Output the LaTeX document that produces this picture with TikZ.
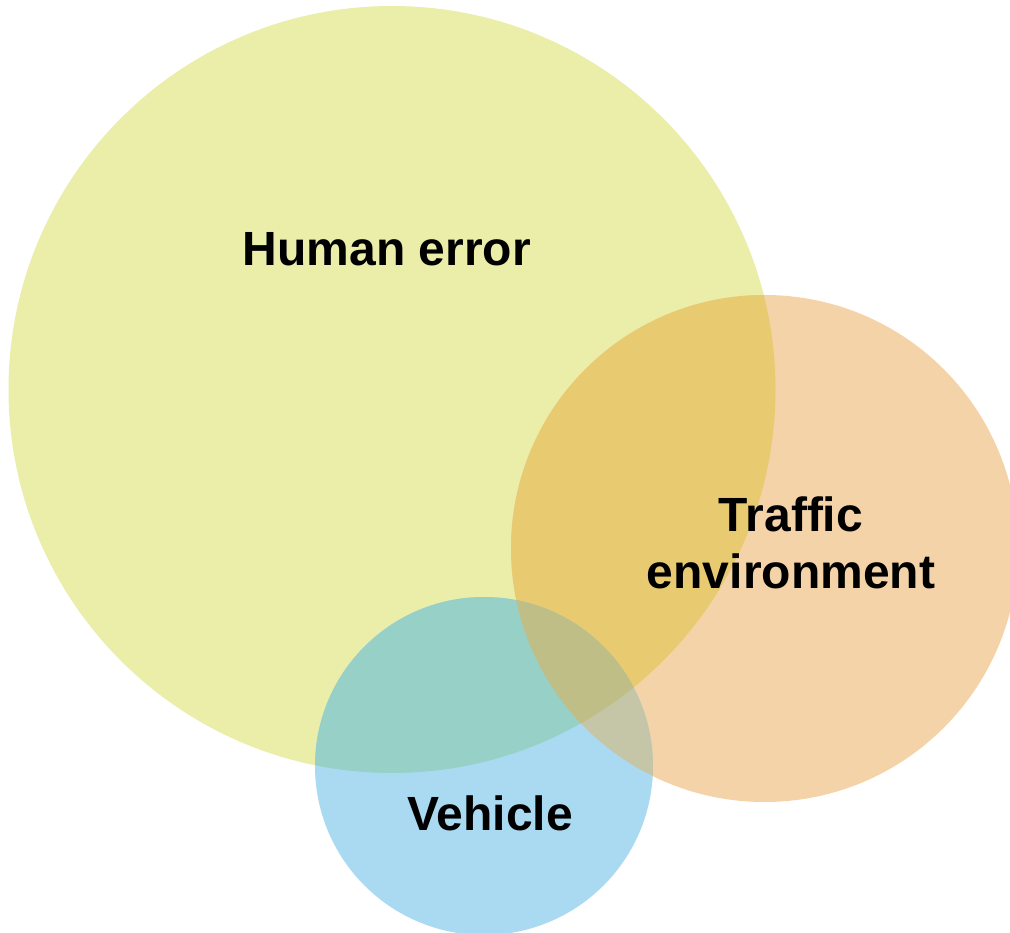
\documentclass[tikz,border=0pt]{standalone}
\usepackage{fontspec}
\setmainfont{Liberation Sans}
\begin{document}
\begin{tikzpicture}[x=1pt,y=-1pt,
  label/.style={font=\fontsize{48}{57}\selectfont\bfseries, text=black, inner sep=0pt, align=center}]
  \definecolor{cHuman}{RGB}{235,238,169}
  \definecolor{cTraffic}{RGB}{245,211,168}
  \definecolor{cVehicle}{RGB}{170,218,241}
  \definecolor{cHT}{RGB}{232,202,112}
  \definecolor{cHV}{RGB}{151,208,199}
  \definecolor{cTV}{RGB}{197,197,168}
  \definecolor{cHTV}{RGB}{190,190,134}
  \useasboundingbox (0,0) rectangle (1010,933);
  \fill[white] (0,0) rectangle (1010,933);
  \clip (0,0) rectangle (1010,933);

  % circle centres
  \coordinate (human) at (392,389.5);
  \coordinate (traffic) at (764.5,548.5);
  \coordinate (vehicle) at (484,766);
  \def\rHuman{383.5}
  \def\rTraffic{253.5}
  \def\rVehicle{169}

  % single sets
  \fill[cHuman] (human) circle[radius=\rHuman];
  \fill[cTraffic] (traffic) circle[radius=\rTraffic];
  \fill[cVehicle] (vehicle) circle[radius=\rVehicle];

  % pairwise overlaps
  \begin{scope}
    \clip (human) circle[radius=\rHuman];
    \fill[cHT] (traffic) circle[radius=\rTraffic];
    \fill[cHV] (vehicle) circle[radius=\rVehicle];
  \end{scope}
  \begin{scope}
    \clip (traffic) circle[radius=\rTraffic];
    \fill[cTV] (vehicle) circle[radius=\rVehicle];
    \clip (human) circle[radius=\rHuman];
    \fill[cHTV] (vehicle) circle[radius=\rVehicle];
  \end{scope}

  % labels
  \node[label, anchor=base] (lHuman) at (387,266) {Human error};
  \node[label, anchor=center] (lTraffic) at (791,543) {Traffic\\environment};
  \node[label, anchor=base] (lVehicle) at (490,830) {Vehicle};
\end{tikzpicture}
\end{document}
